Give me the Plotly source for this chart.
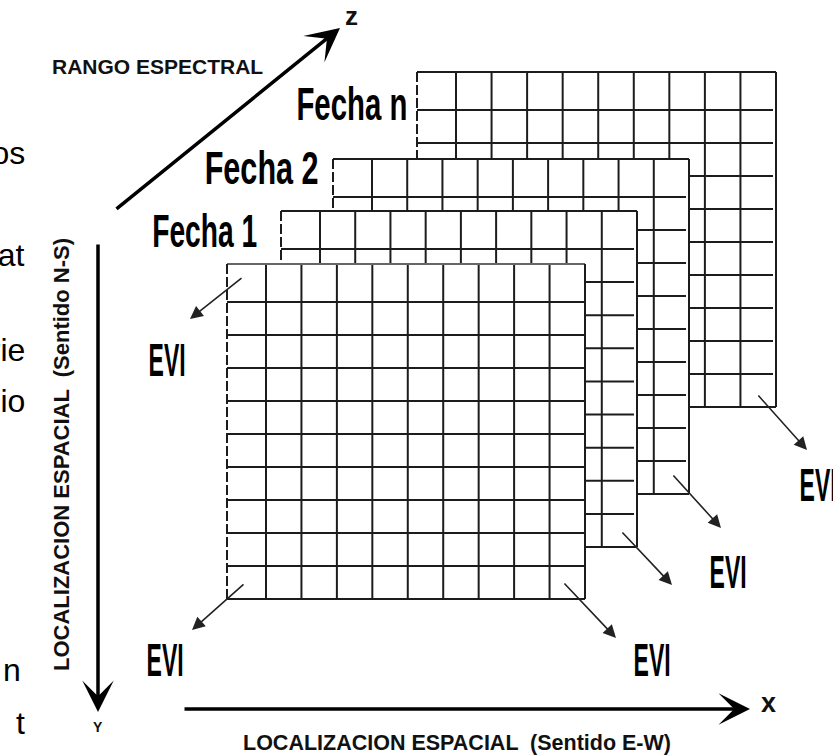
import plotly.graph_objects as go

# ---- diagram content (coordinates in the picture's pixel space) ----
layer_labels = ["", "Fecha 1", "Fecha 2", "Fecha n"]          # front -> back
layer_left = [227, 281, 333, 417]
layer_top = [264, 211, 159, 72]
layer_right = [585, 637, 689, 776]
layer_bottom = [599, 547, 494, 407]
n_cols = 10
n_rows = 10
first_col_w = 39
first_row_h = 38

label_x = [None, 204, 261, 352]
label_y = [None, 231, 168, 104]

evi_x = [167, 165, 652, 728, 818]
evi_y = [360, 660, 660, 572, 485]
evi_arrow_tail_x = [243, 245, 563, 621, 672, 757]
evi_arrow_tail_y = [277, 583, 582, 531, 474, 394]
evi_arrow_tip_x = [190, 192, 616, 672, 721, 807]
evi_arrow_tip_y = [319, 630, 638, 585, 528, 450]

side_fragments = ["datos", "dat", "serie", "espacio", "n", "t"]
side_fragment_x = [27, 27, 27, 27, 23, 27]
side_fragment_y = [153, 255, 350, 401, 670, 723]

LINE = "#1c1c1c"
arial = "Liberation Sans, Arial, sans-serif"

W, H = 833, 756

fig = go.Figure()
fig.add_trace(go.Scatter(x=[400], y=[400], mode="markers", marker=dict(opacity=0),
                         hoverinfo="skip", showlegend=False))

shapes = []
# draw from the back layer to the front so front layers hide the back ones
for i in reversed(range(len(layer_labels))):
    x0, x1 = layer_left[i], layer_right[i]
    y0, y1 = layer_top[i], layer_bottom[i]
    shapes.append(dict(type="rect", x0=x0, x1=x1, y0=y0, y1=y1,
                       fillcolor="white", line=dict(width=0)))
    cw = (x1 - x0 - first_col_w) / (n_cols - 1)
    rh = (y1 - y0 - first_row_h) / (n_rows - 1)
    xs = [x0 + first_col_w + k * cw for k in range(n_cols - 1)]
    ys = [y0 + first_row_h + k * rh for k in range(n_rows - 1)]
    for xv in xs:
        shapes.append(dict(type="line", x0=xv, x1=xv, y0=y0, y1=y1,
                           line=dict(color=LINE, width=2)))
    for yv in ys:
        shapes.append(dict(type="line", x0=x0, x1=x1 - (3 if i > 0 else 0), y0=yv, y1=yv,
                           line=dict(color=LINE, width=2)))
    shapes.append(dict(type="line", x0=x0, x1=x1, y0=y0, y1=y0,
                       line=dict(color=LINE if i > 0 else "#666666", width=2)))
    shapes.append(dict(type="line", x0=x1, x1=x1, y0=y0, y1=y1,
                       line=dict(color=LINE, width=2)))
    shapes.append(dict(type="line", x0=x0, x1=x1, y0=y1, y1=y1,
                       line=dict(color=LINE, width=2)))
    shapes.append(dict(type="line", x0=x0, x1=x0, y0=y0, y1=y1,
                       line=dict(color=LINE, width=2, dash="10px,3px")))

annotations = []
cond_font = dict(family=arial, size=46, color="black", weight="bold")
for i, lab in enumerate(layer_labels):
    if lab:
        annotations.append(dict(x=label_x[i], y=label_y[i], text=lab, showarrow=False,
                                font=cond_font, xanchor="center", yanchor="middle"))
for xv, yv in zip(evi_x, evi_y):
    annotations.append(dict(x=xv, y=yv, text="EVI", showarrow=False,
                            font=cond_font, xanchor="center", yanchor="middle"))
for tx, ty, hx, hy in zip(evi_arrow_tail_x, evi_arrow_tail_y, evi_arrow_tip_x, evi_arrow_tip_y):
    annotations.append(dict(x=hx, y=hy, ax=tx, ay=ty, axref="x", ayref="y", text="",
                            showarrow=True, arrowhead=2, arrowsize=1.6, arrowwidth=1.6,
                            arrowcolor="#222222", standoff=0))

axis_arrows = [
    dict(tail=(115, 210), tip=(340, 28), size=1.6),   # Z
    dict(tail=(98, 243), tip=(98, 712), size=1.5),    # Y
    dict(tail=(183, 709), tip=(750, 709), size=1.5),  # X
]
for a in axis_arrows:
    annotations.append(dict(x=a["tip"][0], y=a["tip"][1], ax=a["tail"][0], ay=a["tail"][1],
                            axref="x", ayref="y", text="", showarrow=True, arrowhead=3,
                            arrowsize=a["size"], arrowwidth=3.5, arrowcolor="black", standoff=0))

annotations += [
    dict(x=157, y=66, text="RANGO ESPECTRAL", showarrow=False,
         font=dict(family=arial, size=21, color="#111111", weight="bold")),
    dict(x=351, y=16, text="z", showarrow=False,
         font=dict(family=arial, size=26, color="#111111", weight="bold")),
    dict(x=768, y=703, text="x", showarrow=False,
         font=dict(family=arial, size=27, color="#111111", weight="bold")),
    dict(x=98, y=727, text="Y", showarrow=False,
         font=dict(family=arial, size=14, color="#111111", weight="bold")),
    dict(x=457, y=743, text="LOCALIZACION ESPACIAL  (Sentido E-W)", showarrow=False,
         font=dict(family=arial, size=21.5, color="#111111", weight="bold")),
    dict(x=61, y=455, text="LOCALIZACION ESPACIAL  (Sentido N-S)", showarrow=False,
         textangle=-90,
         font=dict(family=arial, size=22, color="#111111", weight="bold")),
]
for t, xv, yv in zip(side_fragments, side_fragment_x, side_fragment_y):
    annotations.append(dict(x=xv, y=yv, text=t, showarrow=False, xanchor="right",
                            yanchor="middle",
                            font=dict(family=arial, size=32, color="black")))

fig.update_layout(
    width=W, height=H,
    margin=dict(l=0, r=0, t=0, b=0),
    paper_bgcolor="white", plot_bgcolor="white", showlegend=False,
    xaxis=dict(range=[0, W], visible=False, fixedrange=True),
    yaxis=dict(range=[H, 0], visible=False, fixedrange=True),
    shapes=shapes, annotations=annotations,
)

# remove the page's default body margin so the figure fills the window, and
# squeeze the labels (a tall, very condensed typeface in the original)
# horizontally to their measured widths; they stay real text
post = """
document.body.style.margin = '0';
document.body.style.overflow = 'hidden';
var gd = document.getElementById('{plot_id}');
var targets = {'Fecha n': 111, 'Fecha 2': 114, 'Fecha 1': 105, 'EVI': 37};
gd.querySelectorAll('text.annotation-text').forEach(function (t) {
  var w = targets[t.textContent];
  if (!w) return;
  var bb = t.getBBox();
  if (!bb.width) return;
  var cx = bb.x + bb.width / 2;
  var s = w / bb.width;
  var prev = t.getAttribute('transform') || '';
  t.setAttribute('transform', prev + ' translate(' + cx + ',0) scale(' + s + ',1) translate(' + (-cx) + ',0)');
});
"""
fig.write_html("out.html", post_script=post, config={"displayModeBar": False})
